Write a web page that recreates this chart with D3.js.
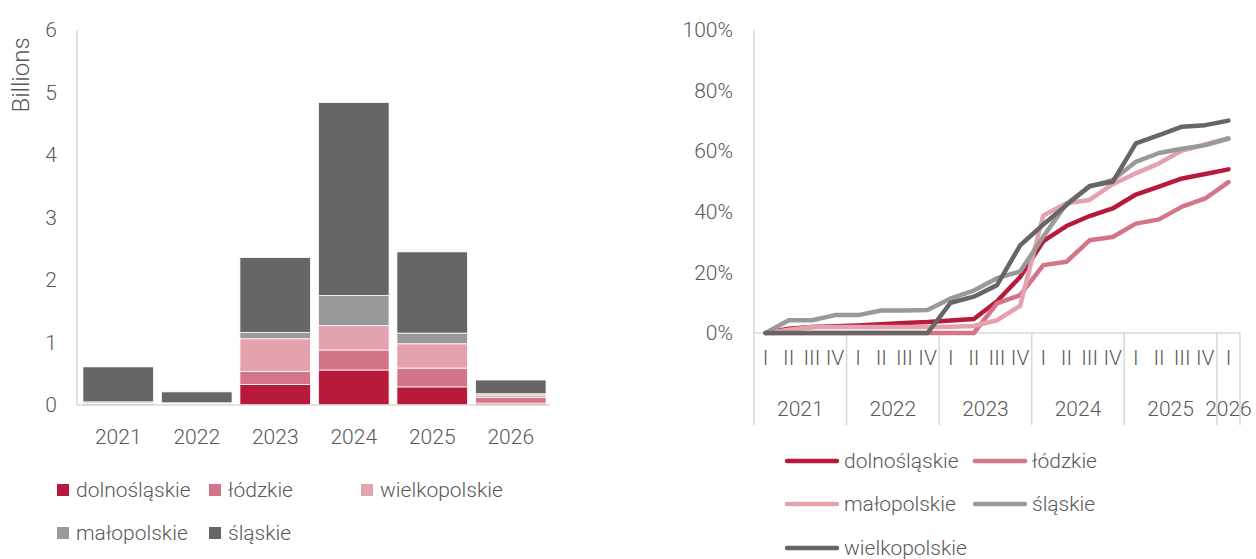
<!DOCTYPE html>
<html>
<head>
<meta charset="utf-8">
<script src="https://cdn.jsdelivr.net/npm/d3@7"></script>
<style>
  body { margin: 0; background: #fff; }
  svg text { font-family: Roboto, "Noto Sans", sans-serif; font-weight: 300; fill: #595959; }
</style>
</head>
<body>
<div id="chart"></div>
<script>

// ------------------------ data ------------------------------

// left chart: billions per year
var barYears = ["2021", "2022", "2023", "2024", "2025", "2026"];
var barRegions = ["dolnośląskie", "łódzkie", "wielkopolskie", "małopolskie", "śląskie"];
var barColours = ["#b71a3b", "#d47489", "#e4a2ae", "#999999", "#666666"];
var dolnoBar  = [0.02, 0.015, 0.33, 0.56, 0.29, 0.03];
var lodzBar   = [0.005, 0.005, 0.205, 0.32, 0.30, 0.09];
var wielkoBar = [0.005, 0.005, 0.525, 0.39, 0.39, 0.04];
var maloBar   = [0.02, 0.01, 0.10, 0.48, 0.17, 0.02];
var slaskBar  = [0.56, 0.175, 1.20, 3.09, 1.30, 0.22];
var barTicks  = [0, 1, 2, 3, 4, 5, 6];

// right chart: cumulative share by quarter
var lineYears = ["2021", "2022", "2023", "2024", "2025", "2026"];
var quartersPerYear = [4, 4, 4, 4, 4, 1];
var quarterNames = ["I", "II", "III", "IV"];
var lineRegions = ["dolnośląskie", "łódzkie", "małopolskie", "śląskie", "wielkopolskie"];
var lineColours = ["#b71a3b", "#d47489", "#e4a2ae", "#999999", "#666666"];
var dolnoLine  = [0, 1.4, 2.0, 2.2, 2.5, 2.9, 3.3, 3.6, 4.1, 4.6, 10.5, 18.5, 30.3, 35.3, 38.6, 41.1, 45.7, 48.3, 51.0, 52.5, 54.0];
var lodzLine   = [0, 0, 0, 0, 0, 0, 0, 0, 0, 0, 9.8, 12.5, 22.4, 23.5, 30.6, 31.7, 36.1, 37.5, 41.7, 44.4, 49.8];
var maloLine   = [0, 1.1, 2.0, 2.0, 2.0, 2.0, 2.0, 2.0, 2.1, 2.3, 4.2, 9.0, 38.8, 42.8, 43.9, 49.1, 52.7, 56.0, 60.2, 62.2, 64.3];
var slaskLine  = [0, 4.2, 4.2, 5.9, 5.9, 7.4, 7.4, 7.6, 11.4, 14.0, 18.1, 20.3, 31.8, 42.6, 48.3, 50.5, 56.5, 59.4, 60.8, 62.0, 64.1];
var wielkoLine = [0, 0, 0, 0, 0, 0, 0, 0, 10.0, 12.0, 15.8, 28.9, 35.8, 42.2, 48.5, 49.9, 62.6, 65.3, 68.1, 68.6, 70.1];
var lineTicks  = [0, 0.2, 0.4, 0.6, 0.8, 1];

var axisColour = "#d9d9d9";
var fontSize = "21px";

var svg = d3.select("#chart").append("svg")
    .attr("width", 1256)
    .attr("height", 559);

// ------------------------ left: stacked bars ------------------------------

var build_barChart = function() {
    var g = svg.append("g");
    var x = d3.scaleBand().domain(barYears).range([79, 550]).paddingInner(0.1).paddingOuter(0.05);
    var y = d3.scaleLinear().domain([0, 6]).range([405, 30]);

    var rows = barYears.map(function(yr, i) {
        return { year: yr, s0: dolnoBar[i], s1: lodzBar[i], s2: wielkoBar[i], s3: maloBar[i], s4: slaskBar[i] };
    });
    var keys = ["s0", "s1", "s2", "s3", "s4"];
    var stack = d3.stack().keys(keys)(rows);

    g.append("g").selectAll("g")
        .data(stack)
        .enter().append("g")
        .attr("fill", function(d, i) { return barColours[i]; })
        .selectAll("rect")
        .data(function(d) { return d; })
        .enter().append("rect")
            .attr("x", function(d) { return x(d.data.year); })
            .attr("width", x.bandwidth())
            .attr("y", function(d) { return y(d[1]); })
            .attr("height", function(d) { return y(d[0]) - y(d[1]); })
            .attr("stroke", "#fff")
            .attr("stroke-width", 0.8);

    // axis lines
    g.append("line").attr("x1", 77).attr("x2", 77).attr("y1", 30).attr("y2", 405)
        .attr("stroke", axisColour).attr("stroke-width", 1.5);
    g.append("line").attr("x1", 77).attr("x2", 550).attr("y1", 405).attr("y2", 405)
        .attr("stroke", axisColour).attr("stroke-width", 1.5);

    var axisY = g.append("g").attr("transform", "translate(77,0)")
        .call(d3.axisLeft(y).tickValues(barTicks).tickSize(0).tickPadding(20).tickFormat(d3.format("d")));
    axisY.select(".domain").remove();
    axisY.selectAll("text").style("font-size", fontSize).style("font-family", null);

    var axisX = g.append("g").attr("transform", "translate(0,405)")
        .call(d3.axisBottom(x).tickSize(0).tickPadding(24));
    axisX.select(".domain").remove();
    axisX.selectAll("text").style("font-size", fontSize).style("font-family", null);

    g.append("text")
        .attr("transform", "translate(29,75) rotate(-90)")
        .attr("text-anchor", "middle")
        .style("font-size", "24px")
        .text("Billions");

    // legend
    var legendPos = [[57, 490], [209, 490], [361, 490], [57, 533], [209, 533]];
    var leg = g.append("g").selectAll("g")
        .data(barRegions)
        .enter().append("g")
        .attr("transform", function(d, i) { return "translate(" + legendPos[i][0] + "," + legendPos[i][1] + ")"; });
    leg.append("rect").attr("x", 0).attr("y", -6).attr("width", 12).attr("height", 12)
        .attr("fill", function(d, i) { return barColours[i]; });
    leg.append("text").attr("x", 19).attr("dy", "0.35em")
        .style("font-size", fontSize)
        .text(function(d) { return d; });
};

// ------------------------ right: lines ------------------------------

var build_lineChart = function() {
    var g = svg.append("g");

    var periods = [];
    lineYears.forEach(function(yr, i) {
        for (var q = 0; q < quartersPerYear[i]; q++) periods.push({ key: yr + "-" + q, year: yr, q: quarterNames[q] });
    });

    var x = d3.scaleBand().domain(periods.map(function(p) { return p.key; })).range([754, 1240]).padding(0);
    var y = d3.scaleLinear().domain([0, 1]).range([333, 30]);

    // axes
    g.append("line").attr("x1", 754).attr("x2", 754).attr("y1", 30).attr("y2", 333)
        .attr("stroke", axisColour).attr("stroke-width", 1.5);
    g.append("line").attr("x1", 754).attr("x2", 1240).attr("y1", 333).attr("y2", 333)
        .attr("stroke", axisColour).attr("stroke-width", 1.5);

    var axisY = g.append("g").attr("transform", "translate(754,0)")
        .call(d3.axisLeft(y).tickValues(lineTicks).tickSize(0).tickPadding(21).tickFormat(d3.format(".0%")));
    axisY.select(".domain").remove();
    axisY.selectAll("text").style("font-size", fontSize).style("font-family", null);

    var axisQ = g.append("g").attr("transform", "translate(0,333)")
        .call(d3.axisBottom(x).tickSize(0).tickPadding(17)
            .tickFormat(function(k) { return periods.find(function(p) { return p.key === k; }).q; }));
    axisQ.select(".domain").remove();
    axisQ.selectAll("text").style("font-size", fontSize).style("font-family", null);

    // year groups
    var groups = lineYears.map(function(yr, i) {
        var ps = periods.filter(function(p) { return p.year === yr; });
        var x0 = x(ps[0].key), x1 = x(ps[ps.length - 1].key) + x.bandwidth();
        return { year: yr, x0: x0, x1: x1 };
    });
    var seps = groups.map(function(d) { return d.x0; }).concat([groups[groups.length - 1].x1]);
    g.append("g").selectAll("line")
        .data(seps)
        .enter().append("line")
            .attr("x1", function(d) { return d; }).attr("x2", function(d) { return d; })
            .attr("y1", 333).attr("y2", 425)
            .attr("stroke", axisColour).attr("stroke-width", 1.5);
    g.append("g").selectAll("text")
        .data(groups)
        .enter().append("text")
            .attr("x", function(d) { return (d.x0 + d.x1) / 2; })
            .attr("y", 409)
            .attr("dy", "0.35em")
            .attr("text-anchor", "middle")
            .style("font-size", fontSize)
            .text(function(d) { return d.year; });

    // lines
    var series = [dolnoLine, lodzLine, maloLine, slaskLine, wielkoLine];
    var line = d3.line()
        .x(function(d, i) { return x(periods[i].key) + x.bandwidth() / 2; })
        .y(function(d) { return y(d / 100); });
    g.append("g").selectAll("path")
        .data(series)
        .enter().append("path")
            .attr("d", line)
            .attr("fill", "none")
            .attr("stroke", function(d, i) { return lineColours[i]; })
            .attr("stroke-width", 4.5)
            .attr("stroke-linejoin", "round")
            .attr("stroke-linecap", "round");

    // legend
    var legendPos = [[785, 461], [973, 461], [785, 504], [973, 504], [785, 548]];
    var leg = g.append("g").selectAll("g")
        .data(lineRegions)
        .enter().append("g")
        .attr("transform", function(d, i) { return "translate(" + legendPos[i][0] + "," + legendPos[i][1] + ")"; });
    leg.append("line").attr("x1", 2).attr("x2", 52).attr("y1", 0).attr("y2", 0)
        .attr("stroke", function(d, i) { return lineColours[i]; })
        .attr("stroke-width", 4.5).attr("stroke-linecap", "round");
    leg.append("text").attr("x", 59).attr("dy", "0.35em")
        .style("font-size", fontSize)
        .text(function(d) { return d; });
};

build_barChart();
build_lineChart();
</script>
</body>
</html>
